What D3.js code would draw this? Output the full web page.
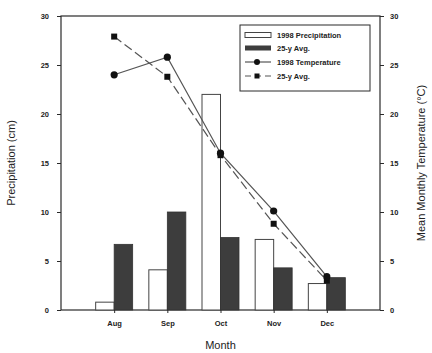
<!DOCTYPE html>
<html>
<head>
<meta charset="utf-8">
<script src="https://cdn.jsdelivr.net/npm/d3@7"></script>
<style>
  html, body { margin: 0; padding: 0; background: #fff; }
  svg { display: block; font-family: "Liberation Sans", Arial, sans-serif; }
</style>
</head>
<body>
<svg id="chart" width="432" height="353"></svg>
<script>
// Monthly precipitation (cm) and mean monthly temperature (°C)
const months = ["Aug", "Sep", "Oct", "Nov", "Dec"];
const precip1998 = [0.8, 4.1, 22.0, 7.2, 2.7];
const precipAvg = [6.7, 10.0, 7.4, 4.3, 3.3];
const temp1998 = [24.0, 25.8, 16.0, 10.1, 3.4];
const tempAvg = [27.9, 23.8, 15.8, 8.8, 3.0];
const yTicks = [0, 5, 10, 15, 20, 25, 30];

const svg = d3.select("#chart");
const plotL = 61, plotR = 380, plotT = 16, plotB = 310;
const ink = "#2a2a2a";

const x = d3.scalePoint().domain(months).range([plotL, plotR]).padding(1);
const yP = d3.scaleLinear().domain([0, 30]).range([plotB, plotT]);
const yT = d3.scaleLinear().domain([0, 30]).range([plotB, plotT]);
const barW = 18.5;

// frame
svg.append("rect").attr("x", plotL).attr("y", plotT)
  .attr("width", plotR - plotL).attr("height", plotB - plotT)
  .attr("fill", "none").attr("stroke", ink).attr("stroke-width", 1.2);

// bars
const g = svg.append("g");
g.selectAll("rect.p98").data(months).join("rect")
  .attr("x", d => x(d) - barW).attr("width", barW)
  .attr("y", (d, i) => yP(precip1998[i]))
  .attr("height", (d, i) => yP(0) - yP(precip1998[i]))
  .attr("fill", "#fff").attr("stroke", "#444").attr("stroke-width", 1);
g.selectAll("rect.pavg").data(months).join("rect")
  .attr("x", d => x(d)).attr("width", barW)
  .attr("y", (d, i) => yP(precipAvg[i]))
  .attr("height", (d, i) => yP(0) - yP(precipAvg[i]))
  .attr("fill", "#3d3d3d").attr("stroke", "#333").attr("stroke-width", 0.8);

// axes
const axL = d3.axisLeft(yP).tickValues(yTicks).tickSize(4).tickPadding(8);
const axR = d3.axisRight(yT).tickValues(yTicks).tickSize(4).tickPadding(6);
const axB = d3.axisBottom(x).tickSize(3).tickPadding(8);
function style(sel) {
  sel.select(".domain").remove();
  sel.selectAll("line").attr("stroke", ink).attr("stroke-width", 1);
  sel.selectAll("text").attr("fill", "#222").attr("font-size", 7.5).attr("font-weight", "bold");
}
svg.append("g").attr("transform", `translate(${plotL},0)`).call(axL).call(style);
svg.append("g").attr("transform", `translate(${plotR},0)`).call(axR).call(style);
svg.append("g").attr("transform", `translate(0,${plotB})`).call(axB).call(style);

// temperature lines
const line = arr => d3.line().x((d, i) => x(months[i])).y(d => yT(d))(arr);
svg.append("path").attr("d", line(tempAvg)).attr("fill", "none")
  .attr("stroke", "#555").attr("stroke-width", 1.2).attr("stroke-dasharray", "9,4");
svg.append("path").attr("d", line(temp1998)).attr("fill", "none")
  .attr("stroke", "#555").attr("stroke-width", 1.2);
svg.selectAll("rect.tavg").data(tempAvg).join("rect")
  .attr("x", (d, i) => x(months[i]) - 3).attr("y", d => yT(d) - 3)
  .attr("width", 6).attr("height", 6).attr("fill", "#111");
svg.selectAll("circle.t98").data(temp1998).join("circle")
  .attr("cx", (d, i) => x(months[i])).attr("cy", d => yT(d))
  .attr("r", 3.6).attr("fill", "#111");

// legend
const lg = svg.append("g");
lg.append("rect").attr("x", 240).attr("y", 25).attr("width", 130).attr("height", 66)
  .attr("fill", "#fff").attr("stroke", ink).attr("stroke-width", 1);
const lx = 245, lw = 26, tx = 277;
const rows = [35, 48, 62, 76];
const labels = ["1998 Precipitation", "25-y Avg.", "1998 Temperature", "25-y Avg."];
lg.append("rect").attr("x", lx).attr("y", rows[0] - 2.5).attr("width", lw).attr("height", 5)
  .attr("fill", "#fff").attr("stroke", "#444");
lg.append("rect").attr("x", lx).attr("y", rows[1] - 2.5).attr("width", lw).attr("height", 5)
  .attr("fill", "#3d3d3d");
lg.append("line").attr("x1", lx).attr("x2", lx + lw).attr("y1", rows[2]).attr("y2", rows[2])
  .attr("stroke", "#555").attr("stroke-width", 1.2);
lg.append("circle").attr("cx", lx + 12).attr("cy", rows[2]).attr("r", 3).attr("fill", "#111");
lg.append("line").attr("x1", lx).attr("x2", lx + lw).attr("y1", rows[3]).attr("y2", rows[3])
  .attr("stroke", "#555").attr("stroke-width", 1.2).attr("stroke-dasharray", "6,4");
lg.append("rect").attr("x", lx + 9.5).attr("y", rows[3] - 2.5).attr("width", 5).attr("height", 5).attr("fill", "#111");
lg.selectAll("text").data(labels).join("text")
  .attr("x", tx).attr("y", (d, i) => rows[i]).attr("dy", "0.35em")
  .attr("font-size", 7.5).attr("font-weight", "bold").attr("fill", "#222").text(d => d);

// axis titles
svg.append("text").attr("transform", `translate(15,${(plotT + plotB) / 2}) rotate(-90)`)
  .attr("text-anchor", "middle").attr("font-size", 11).attr("fill", "#222").text("Precipitation (cm)");
svg.append("text").attr("transform", `translate(425,${(plotT + plotB) / 2}) rotate(-90)`)
  .attr("text-anchor", "middle").attr("font-size", 11).attr("fill", "#222").text("Mean Monthly Temperature (°C)");
svg.append("text").attr("x", (plotL + plotR) / 2).attr("y", 349)
  .attr("text-anchor", "middle").attr("font-size", 11).attr("fill", "#222").text("Month");
</script>
</body>
</html>
